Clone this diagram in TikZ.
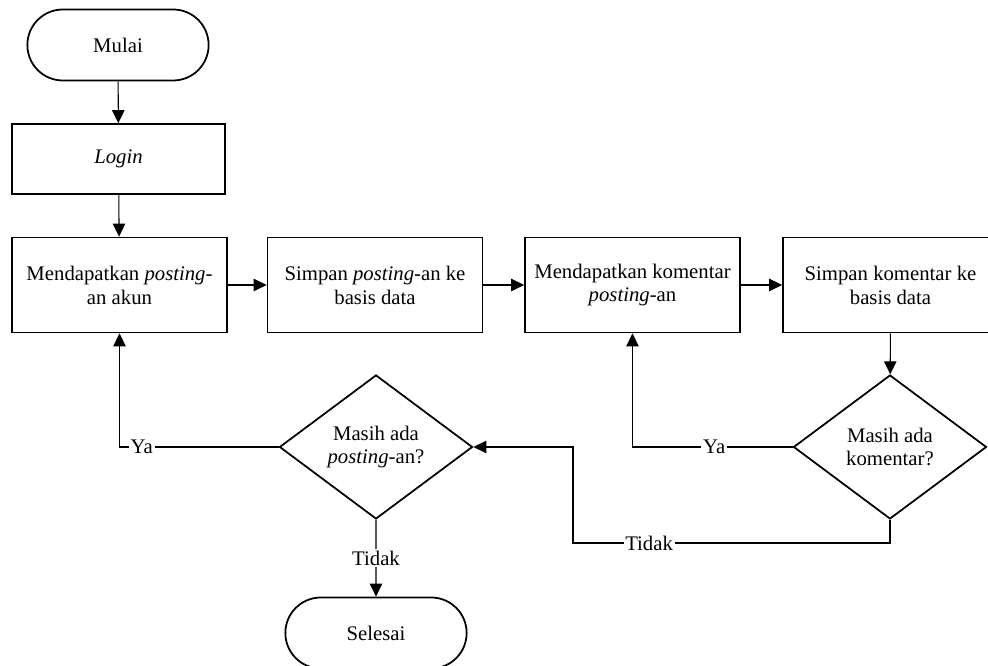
\documentclass[tikz,border=0pt]{standalone}
\usepackage{fontspec}
\setmainfont{Liberation Serif}
\usetikzlibrary{shapes.geometric,shapes.misc,arrows.meta}

\begin{document}
\begin{tikzpicture}[
    font=\fontsize{11.8}{13.6}\selectfont,
    terminal/.style={draw, line width=1pt, rounded rectangle, minimum width=3.86cm, minimum height=1.42cm},
    process/.style={draw, line width=1pt, rectangle, align=center, minimum width=4.3cm, minimum height=1.9cm},
    decision/.style={draw, line width=1pt, diamond, align=center, inner sep=0pt, minimum width=3.86cm, minimum height=2.88cm},
    line/.style={draw, line width=0.6pt, -{Triangle[length=2.6mm, width=2.5mm]}},
    lbl/.style={fill=white, inner sep=1pt}]
    \useasboundingbox (0,0) rectangle (19.76,-13.32);

    \node[terminal] (start) at ( 2.36, -0.90) {Mulai};
    \node[process, minimum width=4.26cm, minimum height=1.4cm] (login) at ( 2.37, -3.18) {\textit{Login}};
    \node[process] (b1)     at ( 2.39, -5.70) {Mendapatkan \textit{posting}-\\an akun};
    \node[process] (b2)     at ( 7.50, -5.70) {Simpan \textit{posting}-an ke\\basis data};
    \node[process] (b3)     at (12.65, -5.70) {Mendapatkan komentar\\\textit{posting}-an};
    \node[process] (b4)     at (17.81, -5.70) {Simpan komentar ke\\basis data};
    \node[decision] (d1)    at ( 7.52, -8.94) {Masih ada\\\textit{posting}-an?};
    \node[decision] (d2)    at (17.80, -8.94) {Masih ada\\komentar?};
    \node[terminal] (end)   at ( 7.52,-12.66) {Selesai};
    \coordinate (tk) at (11.46,-10.86);

    \draw[line] (start) -- (login);
    \draw[line] (login) -- (b1);
    \draw[line] (b1) -- (b2);
    \draw[line] (b2) -- (b3);
    \draw[line] (b3) -- (b4);
    \draw[line] (b4) -- (d2);
    \draw[line] (d2.west) -| node[lbl, pos=0.245] {Ya} (b3.south);
    \draw[line] (d1.west) -| node[lbl, pos=0.43] {Ya} (b1.south);
    \draw[line] (d1) -- node[lbl] {Tidak} (end);
    \draw[line] (d2.south) |- node[lbl, pos=0.88] {Tidak} (tk) |- (d1.east);

  \end{tikzpicture}
\end{document}
